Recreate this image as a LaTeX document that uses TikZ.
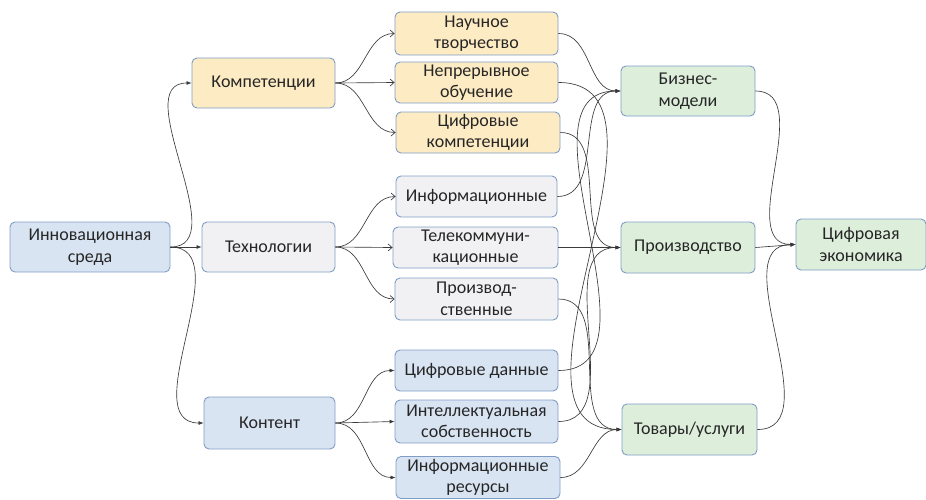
\documentclass[tikz,border=0pt]{standalone}
\usepackage{fontspec}
\setmainfont{Carlito}
\usetikzlibrary{positioning, arrows.meta}
\definecolor{boxline}{HTML}{7F9CC6}
\definecolor{textgray}{HTML}{262626}
\definecolor{linegray}{HTML}{3A3A3A}
\definecolor{kompfill}{HTML}{FDEBC3}
\definecolor{techfill}{HTML}{F1F1F3}
\definecolor{kontfill}{HTML}{D9E4F2}
\definecolor{ecofill}{HTML}{DDEEDB}
\tikzset{
    box/.style={draw=boxline, line width=0.9pt, rounded corners=5pt, align=center,
        text=textgray, inner sep=0pt, font=\fontsize{18}{21.5}\selectfont},
    kompbox/.style={box, fill=kompfill},
    techbox/.style={box, fill=techfill},
    kontbox/.style={box, fill=kontfill},
    ecobox/.style={box, fill=ecofill},
    link/.style={draw=linegray, line width=0.65pt, -{Latex[length=5pt,width=4pt]}},
    openlink/.style={draw=linegray, line width=0.65pt, -{Straight Barb[length=4pt,width=7pt]}},
}
\begin{document}
\begin{tikzpicture}[x=1pt, y=-1pt]
    \useasboundingbox (0,0) rectangle (926,499);
    % left column
    \node[kontbox, minimum width=160pt, minimum height=50pt] (innov) at (90,247) {Инновационная\\среда};
    \node[kompbox, minimum width=143pt, minimum height=50pt] (komp) at (263.5,83) {Компетенции};
    \node[techbox, minimum width=133pt, minimum height=50pt] (tech) at (268.5,247) {Технологии};
    \node[kontbox, minimum width=131pt, minimum height=52pt] (kont) at (269.5,423) {Контент};
    % middle column
    \node[kompbox, minimum width=163pt, minimum height=43pt] (nauch) at (476.5,33.5) {Научное\\творчество};
    \node[kompbox, minimum width=163pt, minimum height=41pt] (nepr) at (476.5,82.5) {Непрерывное\\обучение};
    \node[kompbox, minimum width=164pt, minimum height=41pt] (cifkomp) at (478,132.5) {Цифровые\\компетенции};
    \node[techbox, minimum width=161pt, minimum height=41pt] (inform) at (476.5,196.5) {Информационные};
    \node[techbox, minimum width=165pt, minimum height=41pt] (tele) at (475.5,247.5) {Телекоммуни-\\кационные};
    \node[techbox, minimum width=163pt, minimum height=42pt] (proizv) at (476.5,299) {Производ-\\ственные};
    \node[kontbox, minimum width=163pt, minimum height=41pt] (cifdan) at (476.5,370.5) {Цифровые данные};
    \node[kontbox, minimum width=163pt, minimum height=43pt] (intel) at (476.5,421.5) {Интеллектуальная\\собственность};
    \node[kontbox, minimum width=164pt, minimum height=42pt] (infres) at (478,477.5) {Информационные\\ресурсы};
    % right column
    \node[ecobox, minimum width=134pt, minimum height=50pt] (biz) at (688,91) {Бизнес-\\модели};
    \node[ecobox, minimum width=134pt, minimum height=51pt] (proizvod) at (688,247.5) {Производство};
    \node[ecobox, minimum width=135pt, minimum height=51pt] (tovar) at (689.5,429.5) {Товары/услуги};
    \node[ecobox, minimum width=130pt, minimum height=51pt] (cifeco) at (861,244.5) {Цифровая\\экономика};

    \draw[link] (innov.east) to[out=0, in=180] (komp.west);
    \draw[link] (innov.east) -- (tech.west);
    \draw[link] (innov.east) to[out=0, in=180] (kont.west);

    \draw[openlink] (komp.east) to[out=0, in=180] (nauch.west);
    \draw[openlink] (komp.east) -- (nepr.west);
    \draw[openlink] (komp.east) to[out=0, in=180] (cifkomp.west);
    \draw[openlink] (tech.east) to[out=0, in=180] (inform.west);
    \draw[openlink] (tech.east) -- (tele.west);
    \draw[openlink] (tech.east) to[out=0, in=180] (proizv.west);
    \draw[link] (kont.east) to[out=0, in=180] (cifdan.west);
    \draw[link] (kont.east) -- (intel.west);
    \draw[link] (kont.east) to[out=0, in=180] (infres.west);

    \draw[link] (nauch.east) to[out=0, in=180] (biz.west);
    \draw[link] (inform.east) to[out=0, in=180] (biz.west);
    \draw[link] (cifdan.east) to[out=0, in=180] (biz.west);
    \draw[link] (cifkomp.east) to[out=0, in=180] (proizvod.west);
    \draw[link] (tele.east) -- (proizvod.west);
    \draw[link] (intel.east) to[out=0, in=180] (proizvod.west);
    \draw[link] (nepr.east) to[out=0, in=180] (tovar.west);
    \draw[link] (proizv.east) to[out=0, in=180] (tovar.west);
    \draw[link] (infres.east) to[out=0, in=180] (tovar.west);

    \draw[link] (biz.east) to[out=0, in=180] (cifeco.west);
    \draw[link] (proizvod.east) -- (cifeco.west);
    \draw[link] (tovar.east) to[out=0, in=180] (cifeco.west);
\end{tikzpicture}
\end{document}
